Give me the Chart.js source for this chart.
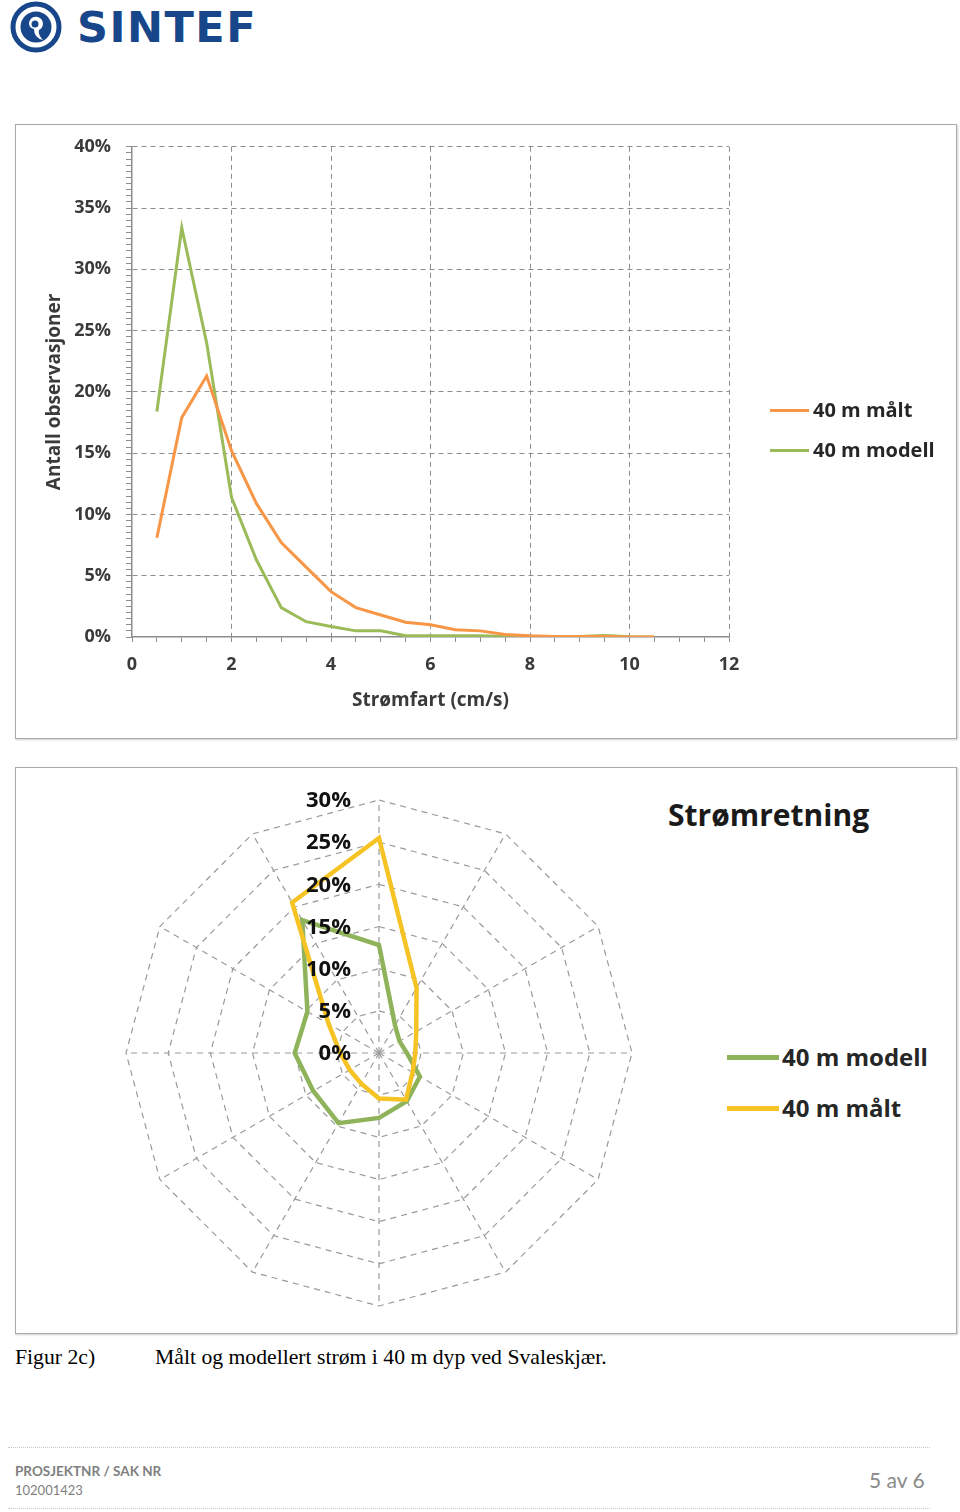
<!DOCTYPE html>
<html lang="no">
<head>
<meta charset="utf-8">
<title>Strømfart og strømretning 40 m</title>
<script src="https://cdn.jsdelivr.net/npm/chart.js@4.4.0/dist/chart.umd.min.js"></script>
<style>
  body { margin: 0; width: 960px; height: 1512px; position: relative; background: #fff; font-family: "Open Sans", Lato, sans-serif; overflow: hidden; }
  .abs { position: absolute; }
  .logoText { left: 77px; top: 2px; font-family: "DejaVu Sans", sans-serif; font-weight: bold; font-size: 43px; color: #17478A; letter-spacing: 1.5px; }
  .box { border: 1px solid #a9a9a9; box-shadow: 1px 1px 2px #d0d0d0; }
  .leg { font-weight: bold; color: #262626; white-space: nowrap; line-height: 1; }
  .legLine { height: 3px; }
  .caption { font-family: "Liberation Serif", "DejaVu Serif", serif; font-size: 21.7px; color: #000; top: 1345px; }
  .dots { left: 8px; width: 922px; border-top: 1px dotted #c8c8c8; height: 0; }
  .foot { color: #7f7f7f; font-size: 13px; font-family: Lato, sans-serif; }
</style>
</head>
<body>

<!-- logo -->
<svg class="abs" style="left:0;top:0" width="70" height="56" viewBox="0 0 70 56">
  <circle cx="36" cy="27" r="23" fill="none" stroke="#17478A" stroke-width="5"/>
  <circle cx="36" cy="27" r="15.5" fill="#17478A"/>
  <path d="M29 23 a7 7 0 1 1 10 7 q-1 5 4 10 q-9 -2 -9 -11 a6 6 0 0 1 -5 -6 z" fill="#fff"/>
  <circle cx="35" cy="24" r="3.5" fill="#17478A"/>
</svg>
<div class="abs logoText">SINTEF</div>

<!-- fartsfordeling -->
<div class="abs box" style="left:15px;top:124px;width:940px;height:613px;"></div>
<canvas id="fartChart" class="abs" style="left:16px;top:121px" width="940" height="617"></canvas>
<div class="abs legLine" style="left:770px;top:409px;width:39px;background:#F79646"></div>
<div class="abs leg" style="left:813px;top:400px;font-size:20px">40 m målt</div>
<div class="abs legLine" style="left:770px;top:449px;width:39px;background:#9BBB59"></div>
<div class="abs leg" style="left:813px;top:440px;font-size:20px">40 m modell</div>

<!-- retningsfordeling -->
<div class="abs box" style="left:15px;top:767px;width:940px;height:565px;"></div>
<canvas id="retningChart" class="abs" style="left:100px;top:774px" width="558" height="558"></canvas>
<div class="abs leg" style="left:668px;top:800px;font-size:30px;color:#1a1a1a">Strømretning</div>
<div class="abs legLine" style="left:727px;top:1055px;width:52px;height:5px;background:#8FB35A"></div>
<div class="abs leg" style="left:782px;top:1045px;font-size:24px">40 m modell</div>
<div class="abs legLine" style="left:727px;top:1106px;width:52px;height:5px;background:#F6C324"></div>
<div class="abs leg" style="left:782px;top:1096px;font-size:24px">40 m målt</div>

<div class="abs caption" style="left:15px">Figur 2c)</div>
<div class="abs caption" style="left:155px">Målt og modellert strøm i 40 m dyp ved Svaleskjær.</div>

<div class="abs dots" style="top:1447px"></div>
<div class="abs foot" style="left:15px;top:1463px;font-weight:bold;font-size:13.5px">PROSJEKTNR / SAK NR</div>
<div class="abs foot" style="left:15px;top:1482px">102001423</div>
<div class="abs" style="left:869px;top:1467px;font-size:21px;color:#8a8a8a;font-family:Lato,sans-serif">5 av 6</div>
<div class="abs dots" style="top:1508px"></div>

<script>
// strømfart (cm/s) og andel observasjoner (%)
const stromfart = [0.5, 1, 1.5, 2, 2.5, 3, 3.5, 4, 4.5, 5, 5.5, 6, 6.5, 7, 7.5, 8, 8.5, 9, 9.5, 10, 10.5];
const maltFart = [8.1, 17.9, 21.3, 15.2, 10.9, 7.7, 5.7, 3.7, 2.4, 1.8, 1.2, 1.0, 0.6, 0.5, 0.2, 0.1, 0.05, 0.05, 0.05, 0, 0];
const modellFart = [18.4, 33.4, 24.0, 11.4, 6.3, 2.4, 1.25, 0.85, 0.5, 0.5, 0.1, 0.1, 0.1, 0.1, 0.05, 0.05, 0.05, 0.05, 0.12, 0.02, 0];

// strømretning i 30-graders sektorer (%)
const retninger = ['0', '30', '60', '90', '120', '150', '180', '210', '240', '270', '300', '330'];
const modellRetning = [12.8, 3.8, 2.8, 3.3, 5.6, 6.6, 7.7, 9.6, 9.0, 10.0, 9.8, 18.2];
const maltRetning = [25.5, 8.9, 5.1, 4.3, 4.6, 6.4, 5.4, 4.2, 4.0, 4.6, 6.9, 20.6];

const gridGray = '#8c8c8c';
const tickFont = { family: 'Open Sans', size: 18, weight: 'bold' };
const titleFont = { family: 'Open Sans', size: 19, weight: 'bold' };

new Chart(document.getElementById('fartChart'), {
    type: 'line',
    data: {
        datasets: [
            {
                label: '40 m målt',
                data: stromfart.map((x, i) => ({ x: x, y: maltFart[i] })),
                borderColor: '#F79646',
                borderWidth: 3,
                pointRadius: 0,
                fill: false,
            },
            {
                label: '40 m modell',
                data: stromfart.map((x, i) => ({ x: x, y: modellFart[i] })),
                borderColor: '#9BBB59',
                borderWidth: 3,
                pointRadius: 0,
                fill: false,
            },
        ],
    },
    options: {
        responsive: false,
        animation: false,
        // toppen styres av y-aksens etikettpadding (ca. 26 px)
        layout: { padding: { left: 0, top: 0, right: 227, bottom: 0 } },
        plugins: { legend: { display: false }, tooltip: { enabled: false } },
        scales: {
            x: {
                type: 'linear',
                min: 0,
                max: 12,
                afterFit: (scale) => { scale.height = 101; },
                ticks: {
                    stepSize: 0.5,
                    autoSkip: false,
                    maxRotation: 0,
                    padding: 12,
                    color: '#3a3a3a',
                    font: tickFont,
                    callback: (v) => (v % 2 === 0 ? v : ''),
                },
                grid: {
                    color: (ctx) => (ctx.tick && ctx.tick.value > 0 && ctx.tick.value % 2 === 0 ? gridGray : 'transparent'),
                    tickColor: gridGray,
                    tickLength: 5,
                },
                border: { color: gridGray, width: 1.5, dash: [5, 4] },
                title: { display: true, text: 'Strømfart (cm/s)', color: '#3a3a3a', font: titleFont, padding: { top: 0, bottom: 26 } },
            },
            y: {
                min: 0,
                max: 40,
                afterFit: (scale) => { scale.width = 116; },
                ticks: {
                    stepSize: 0.5,
                    autoSkip: false,
                    padding: 15,
                    color: '#3a3a3a',
                    font: tickFont,
                    callback: (v) => (v % 5 === 0 ? v + '%' : ''),
                },
                grid: {
                    color: (ctx) => (ctx.tick && ctx.tick.value > 0 && ctx.tick.value % 5 === 0 ? gridGray : 'transparent'),
                    tickColor: gridGray,
                    tickLength: 6,
                },
                border: { color: gridGray, width: 1.5, dash: [5, 4] },
                title: { display: true, text: 'Antall observasjoner', color: '#3a3a3a', font: titleFont, padding: { top: 27, bottom: 0 } },
            },
        },
    },
});

// prosentetiketter til venstre for den loddrette aksen, som i Excel
const radarTickLabels = {
    id: 'radarTickLabels',
    afterDatasetsDraw(chart) {
        const scale = chart.scales.r;
        const ctx = chart.ctx;
        ctx.save();
        ctx.font = 'bold 22px "Open Sans"';
        ctx.fillStyle = '#111';
        ctx.textAlign = 'right';
        ctx.textBaseline = 'middle';
        scale.ticks.forEach((t) => {
            const r = scale.getDistanceFromCenterForValue(t.value);
            ctx.fillText(t.value + '%', scale.xCenter - 28, scale.yCenter - r + 1);
        });
        ctx.restore();
    },
};

new Chart(document.getElementById('retningChart'), {
    type: 'radar',
    data: {
        labels: retninger,
        datasets: [
            {
                label: '40 m modell',
                data: modellRetning,
                borderColor: '#8FB35A',
                borderWidth: 4.5,
                pointRadius: 0,
                fill: false,
                order: 1,
            },
            {
                label: '40 m målt',
                data: maltRetning,
                borderColor: '#F6C324',
                borderWidth: 4.5,
                pointRadius: 0,
                fill: false,
                order: 0,
            },
        ],
    },
    options: {
        responsive: false,
        animation: false,
        layout: { padding: 26 },
        plugins: { legend: { display: false }, tooltip: { enabled: false } },
        scales: {
            r: {
                min: 0,
                max: 30,
                startAngle: 0,
                ticks: { stepSize: 5, display: false },
                pointLabels: { display: false },
                grid: { color: '#9a9a9a', lineWidth: 1.2, circular: false },
                border: { dash: [6, 5] },
                angleLines: { color: '#9a9a9a', lineWidth: 1.2, borderDash: [6, 5] },
            },
        },
    },
    plugins: [radarTickLabels],
});
</script>
</body>
</html>
